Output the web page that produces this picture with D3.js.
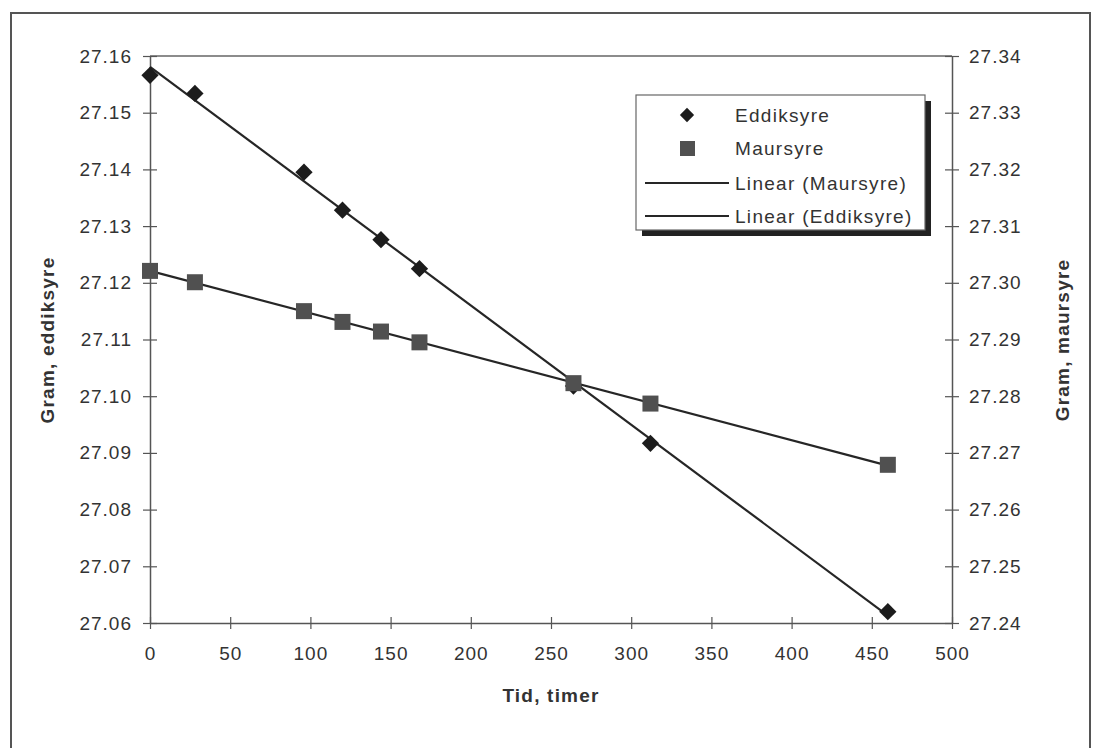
<!DOCTYPE html>
<html>
<head>
<meta charset="utf-8">
<script src="https://cdn.jsdelivr.net/npm/d3@7"></script>
<style>
  body { margin: 0; background: #fff; }
  text { font-family: "Liberation Sans", Arial, sans-serif; fill: #333; }
</style>
</head>
<body>
<div id="chart"></div>
<script>
// Tid (timer) and measured mass for the two acids
var timer = [0, 28, 96, 120, 144, 168, 264, 312, 460];
var eddiksyre = [27.1566, 27.1534, 27.1395, 27.1328, 27.1276, 27.1225, 27.1018, 27.0917, 27.0620];
var maursyre = [27.3021, 27.3001, 27.2950, 27.2931, 27.2914, 27.2895, 27.2823, 27.2787, 27.2679];

var xTicks = [0, 50, 100, 150, 200, 250, 300, 350, 400, 450, 500];
var leftTicks = [27.06, 27.07, 27.08, 27.09, 27.10, 27.11, 27.12, 27.13, 27.14, 27.15, 27.16];
var rightTicks = [27.24, 27.25, 27.26, 27.27, 27.28, 27.29, 27.30, 27.31, 27.32, 27.33, 27.34];

var legendLabels = ["Eddiksyre", "Maursyre", "Linear (Maursyre)", "Linear (Eddiksyre)"];

function init() {
    var w = 1094, h = 748;
    var left = 150, right = 952, top = 56, bottom = 623;

    var svg = d3.select("#chart").append("svg")
        .attr("width", w).attr("height", h);

    // outer frame of the chart
    svg.append("rect")
        .attr("x", 11).attr("y", 13).attr("width", 1079).attr("height", 760)
        .attr("fill", "none").attr("stroke", "#555").attr("stroke-width", 2);

    var x = d3.scaleLinear().domain([0, 500]).range([left, right]);
    var yL = d3.scaleLinear().domain([27.06, 27.16]).range([bottom, top]);
    var yR = d3.scaleLinear().domain([27.24, 27.34]).range([bottom, top]);

    // top border of plot area
    svg.append("line")
        .attr("x1", left).attr("x2", right).attr("y1", top).attr("y2", top)
        .attr("stroke", "#666").attr("stroke-width", 1.5);

    // axes with crossing ticks
    function styleAxis(g) {
        g.select(".domain").attr("stroke", "#555").attr("stroke-width", 1.5);
        g.selectAll(".tick line").attr("stroke", "#555").attr("stroke-width", 1.2);
        g.selectAll(".tick text")
            .attr("font-family", "Liberation Sans, Arial, sans-serif")
            .attr("font-size", 19).attr("fill", "#333")
            .style("letter-spacing", "1px");
    }

    var gx = svg.append("g").attr("transform", "translate(0," + bottom + ")")
        .call(d3.axisBottom(x).tickValues(xTicks).tickSize(0).tickPadding(24).tickFormat(d3.format("d")));
    styleAxis(gx);
    gx.selectAll(".tick line").attr("y1", -6).attr("y2", 6);

    var gl = svg.append("g").attr("transform", "translate(" + left + ",0)")
        .call(d3.axisLeft(yL).tickValues(leftTicks).tickSize(0).tickPadding(18).tickFormat(d3.format(".2f")));
    styleAxis(gl);
    gl.selectAll(".tick line").attr("x1", -7).attr("x2", 7);

    var gr = svg.append("g").attr("transform", "translate(" + right + ",0)")
        .call(d3.axisRight(yR).tickValues(rightTicks).tickSize(0).tickPadding(17).tickFormat(d3.format(".2f")));
    styleAxis(gr);
    gr.selectAll(".tick line").attr("x1", -7).attr("x2", 7);

    // linear trend lines (least squares)
    function fit(xs, ys) {
        var mx = d3.mean(xs), my = d3.mean(ys);
        var sxy = d3.sum(xs, function(d, i) { return (d - mx) * (ys[i] - my); });
        var sxx = d3.sum(xs, function(d) { return (d - mx) * (d - mx); });
        var b = sxy / sxx;
        return function(t) { return my + b * (t - mx); };
    }
    var fe = fit(timer, eddiksyre);
    var fm = fit(timer, maursyre);
    var ext = d3.extent(timer);

    svg.append("line")
        .attr("x1", x(ext[0])).attr("y1", yR(fm(ext[0])))
        .attr("x2", x(ext[1])).attr("y2", yR(fm(ext[1])))
        .attr("stroke", "#262626").attr("stroke-width", 2.2);
    svg.append("line")
        .attr("x1", x(ext[0])).attr("y1", yL(fe(ext[0])))
        .attr("x2", x(ext[1])).attr("y2", yL(fe(ext[1])))
        .attr("stroke", "#262626").attr("stroke-width", 2.2);

    // markers
    var diamond = d3.symbol().type(d3.symbolDiamond2).size(190);
    svg.selectAll("path.edd")
        .data(timer)
        .enter().append("path")
        .attr("class", "edd")
        .attr("d", diamond)
        .attr("transform", function(d, i) {
            return "translate(" + x(d) + "," + yL(eddiksyre[i]) + ")";
        })
        .attr("fill", "#1c1c1c");

    svg.selectAll("rect.maur")
        .data(timer)
        .enter().append("rect")
        .attr("class", "maur")
        .attr("x", function(d) { return x(d) - 8; })
        .attr("y", function(d, i) { return yR(maursyre[i]) - 8; })
        .attr("width", 16).attr("height", 16)
        .attr("fill", "#505050");

    // axis titles
    svg.append("text")
        .attr("x", (left + right) / 2).attr("y", 702)
        .attr("text-anchor", "middle")
        .attr("font-size", 19).attr("font-weight", "bold")
        .style("letter-spacing", "1.2px")
        .text("Tid, timer");
    svg.append("text")
        .attr("transform", "translate(54,340) rotate(-90)")
        .attr("text-anchor", "middle")
        .attr("font-size", 19).attr("font-weight", "bold")
        .style("letter-spacing", "1.2px")
        .text("Gram, eddiksyre");
    svg.append("text")
        .attr("transform", "translate(1069,340) rotate(-90)")
        .attr("text-anchor", "middle")
        .attr("font-size", 19).attr("font-weight", "bold")
        .style("letter-spacing", "1.2px")
        .text("Gram, maursyre");

    // legend
    var lx = 636, ly = 95, lw = 289, lh = 135;
    svg.append("rect")
        .attr("x", lx + 6).attr("y", ly + 6).attr("width", lw).attr("height", lh)
        .attr("fill", "#222");
    svg.append("rect")
        .attr("x", lx).attr("y", ly).attr("width", lw).attr("height", lh)
        .attr("fill", "#fff").attr("stroke", "#666").attr("stroke-width", 1.2);

    var rows = [115, 148, 183, 216];
    var lg = svg.selectAll("g.leg")
        .data(legendLabels)
        .enter().append("g")
        .attr("class", "leg")
        .attr("transform", function(d, i) { return "translate(0," + rows[i] + ")"; });

    lg.append("text")
        .attr("x", 735).attr("y", 7)
        .attr("font-size", 19)
        .style("letter-spacing", "1.3px")
        .text(function(d) { return d; });

    lg.filter(function(d, i) { return i === 0; }).append("path")
        .attr("d", d3.symbol().type(d3.symbolDiamond2).size(130))
        .attr("transform", "translate(687,0)")
        .attr("fill", "#1c1c1c");
    lg.filter(function(d, i) { return i === 1; }).append("rect")
        .attr("x", 680).attr("y", -7).attr("width", 15).attr("height", 15)
        .attr("fill", "#505050");
    lg.filter(function(d, i) { return i >= 2; }).append("line")
        .attr("x1", 645).attr("x2", 729).attr("y1", 0).attr("y2", 0)
        .attr("stroke", "#262626").attr("stroke-width", 2);
}

window.onload = init;
</script>
</body>
</html>
